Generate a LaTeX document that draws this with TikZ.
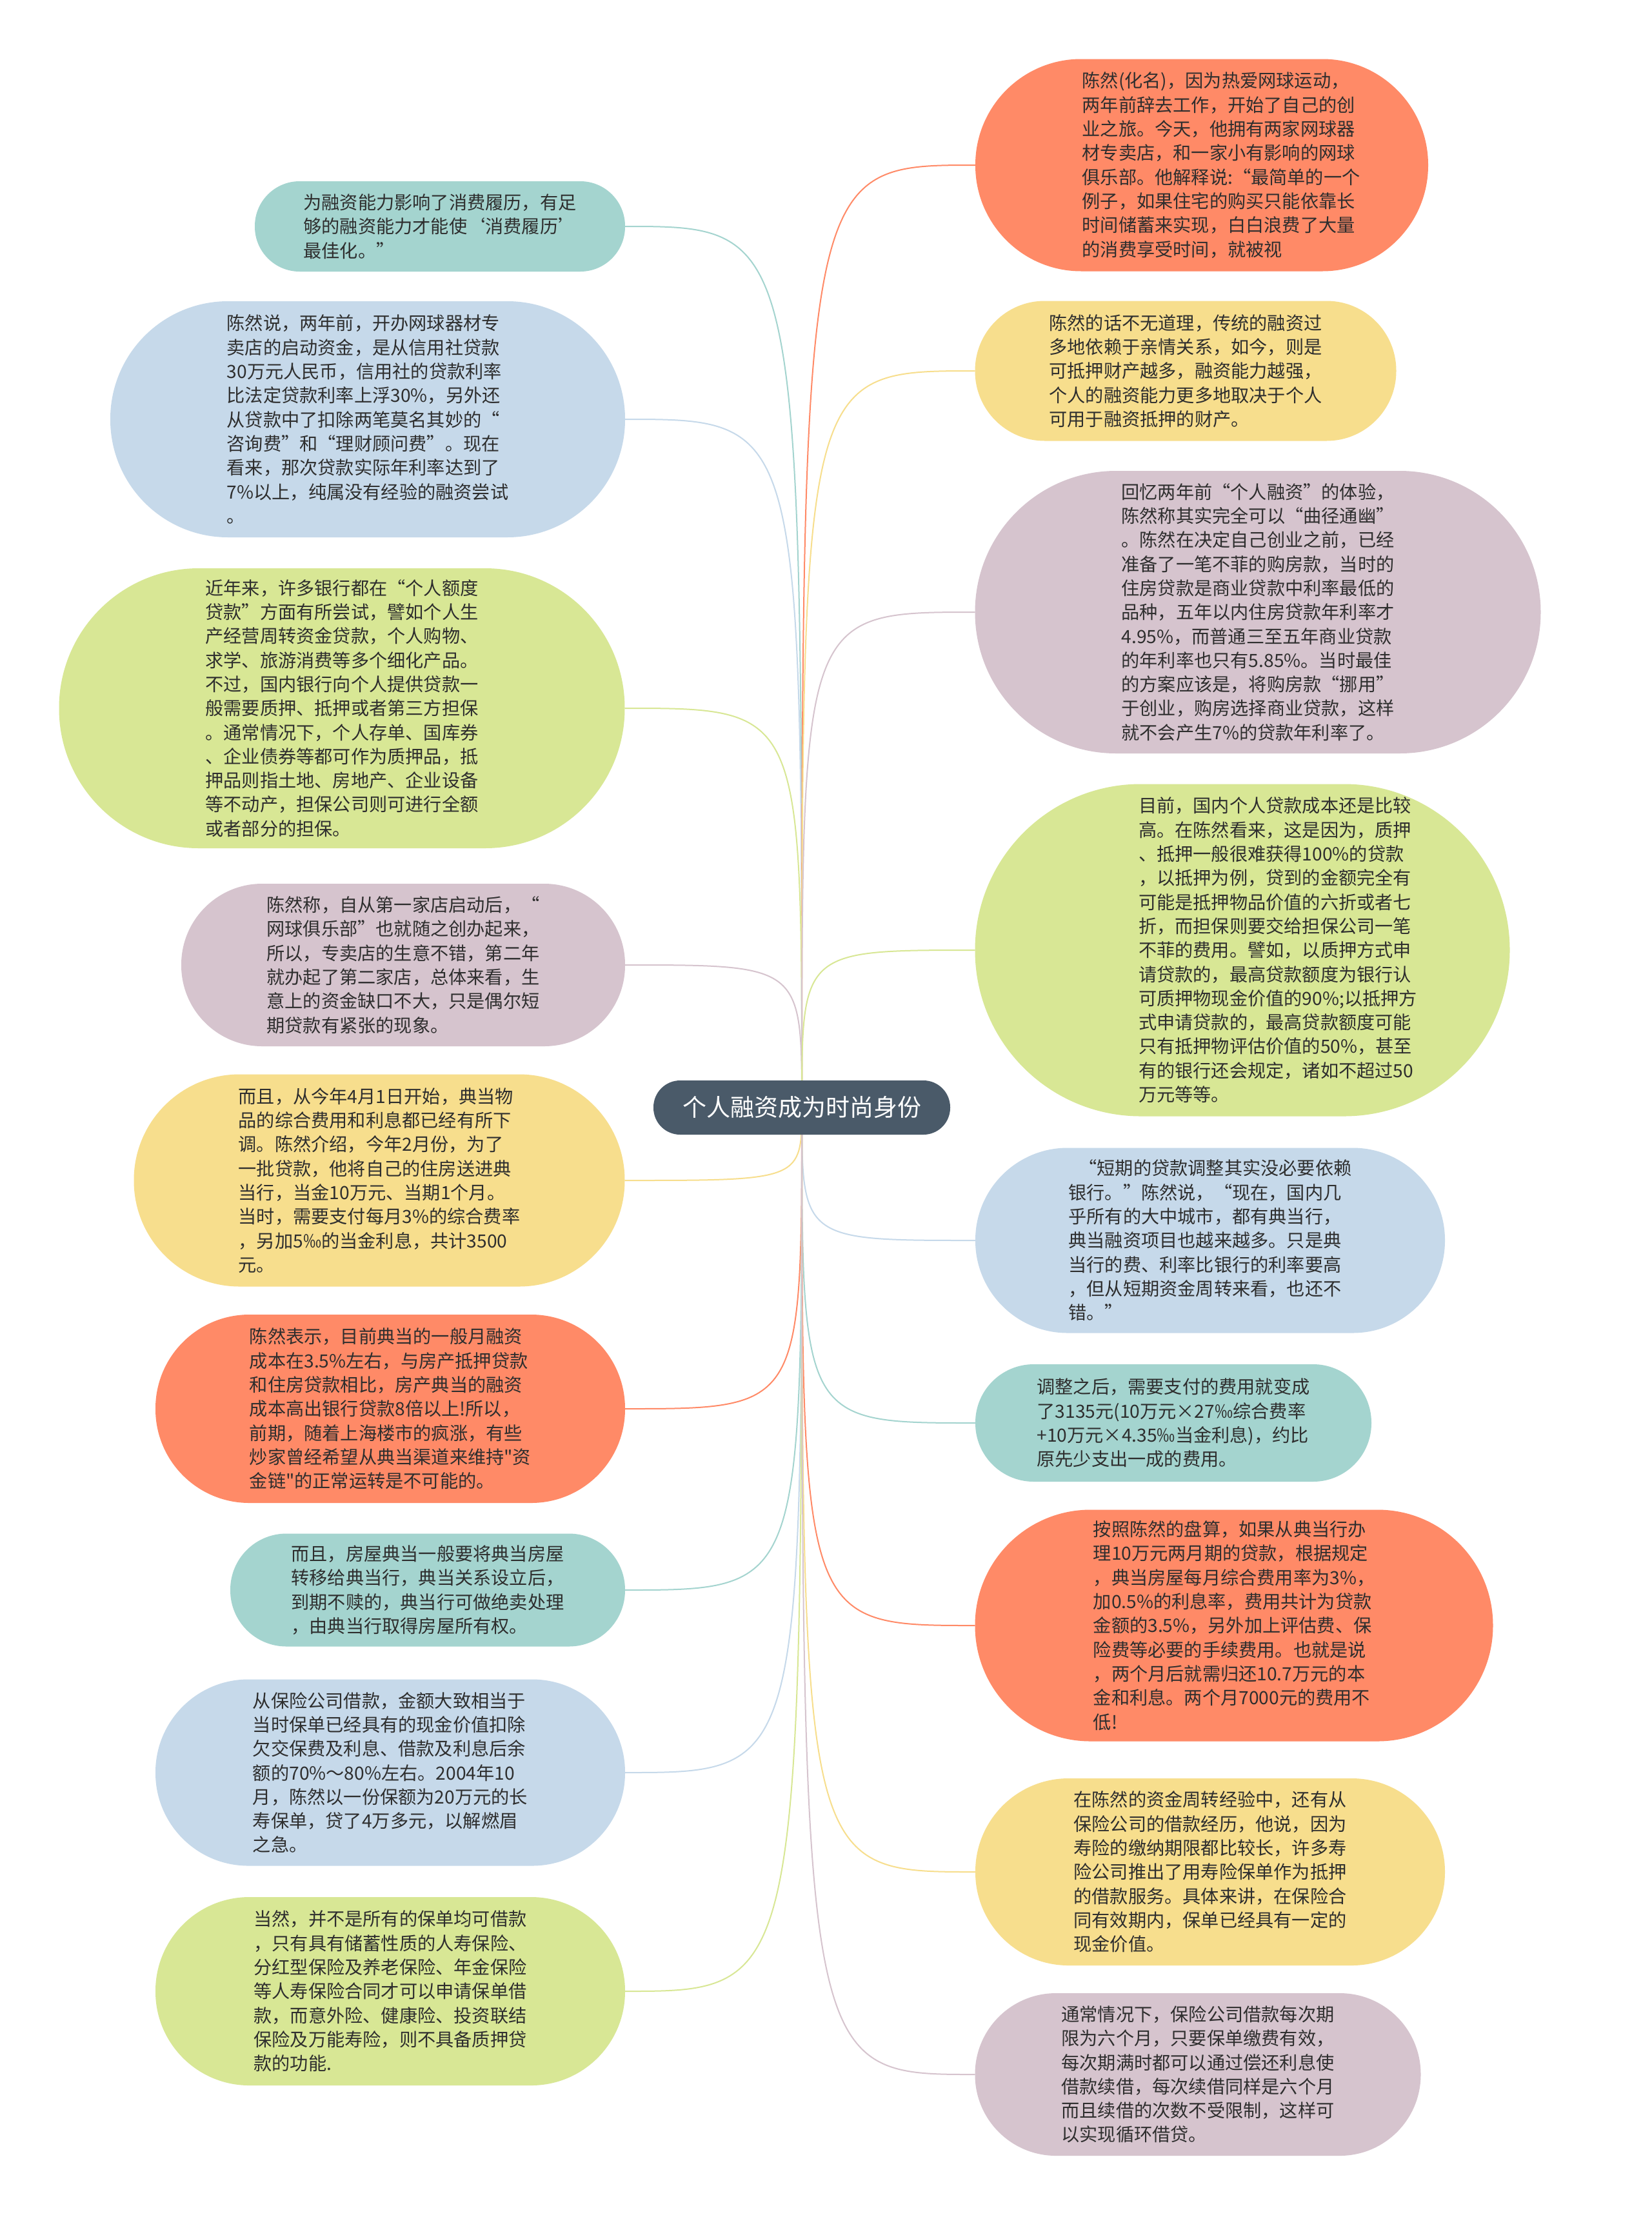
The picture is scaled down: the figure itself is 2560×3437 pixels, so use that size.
\documentclass[tikz,border=0pt]{standalone}
\usepackage{fontspec}
\setmainfont{Noto Sans CJK SC}
\newfontfamily\zhfont{Noto Sans CJK SC}
\usetikzlibrary{backgrounds}
\definecolor{cOr}{HTML}{FF8A67}
\definecolor{cYe}{HTML}{F7DE8D}
\definecolor{cMa}{HTML}{D6C4CE}
\definecolor{cLi}{HTML}{D8E795}
\definecolor{cBl}{HTML}{C6D9EA}
\definecolor{cTe}{HTML}{A4D4CF}
\definecolor{cRoot}{HTML}{4A5A69}
\definecolor{cTxt}{HTML}{2E2E2E}
\newcommand\mmbox[8]{%
  \pgfmathsetmacro\mmr{#6/2-0.5}%
  \node[boxshape, fill=#2, minimum width=#5pt, minimum height=#6pt, rounded corners=\mmr pt] (#1) at (#3,#4) {};%
  \node[boxtext] (#1t) at ([xshift=#7pt]#1.center) {#8};%
}
\begin{document}
\begin{tikzpicture}[x=1pt,y=-1pt,
  boxshape/.style={draw=none, inner sep=0pt, outer sep=0pt, rectangle},
  boxtext/.style={inner sep=0pt, align=left, text=cTxt, font=\zhfont\fontsize{28.2pt}{37.3pt}\selectfont},
  conn/.style={line width=2pt, draw=#1}]
\useasboundingbox (0,0) rectangle (2560,3437);

\node[fill=cRoot, rounded corners=41.5pt, minimum width=460pt, minimum height=84pt, inner sep=0pt, text=white, font=\zhfont\fontsize{37pt}{44pt}\selectfont] (root) at (1243,1717) {个人融资成为时尚身份};

% left column
\mmbox{L1}{cTe}{682}{351}{574}{140}{0}{为融资能力影响了消费履历，有足\\够的融资能力才能使‘消费履历’\\最佳化。”}
\mmbox{L2}{cBl}{570}{650}{798}{366}{0}{陈然说，两年前，开办网球器材专\\卖店的启动资金，是从信用社贷款\\30万元人民币，信用社的贷款利率\\比法定贷款利率上浮30\%，另外还\\从贷款中了扣除两笔莫名其妙的“\\咨询费”和“理财顾问费”。现在\\看来，那次贷款实际年利率达到了\\7\%以上，纯属没有经验的融资尝试\\。}
\mmbox{L3}{cLi}{530}{1098}{877}{434}{0}{近年来，许多银行都在“个人额度\\贷款”方面有所尝试，譬如个人生\\产经营周转资金贷款，个人购物、\\求学、旅游消费等多个细化产品。\\不过，国内银行向个人提供贷款一\\般需要质押、抵押或者第三方担保\\。通常情况下，个人存单、国库券\\、企业债券等都可作为质押品，抵\\押品则指土地、房地产、企业设备\\等不动产，担保公司则可进行全额\\或者部分的担保。}
\mmbox{L4}{cMa}{625}{1496}{688}{252}{0}{陈然称，自从第一家店启动后，“\\网球俱乐部”也就随之创办起来，\\所以，专卖店的生意不错，第二年\\就办起了第二家店，总体来看，生\\意上的资金缺口不大，只是偶尔短\\期贷款有紧张的现象。}
\mmbox{L5}{cYe}{588}{1830}{761}{329}{0}{而且，从今年4月1日开始，典当物\\品的综合费用和利息都已经有所下\\调。陈然介绍，今年2月份，为了\\一批贷款，他将自己的住房送进典\\当行，当金10万元、当期1个月。\\当时，需要支付每月3\%的综合费率\\，另加5‰的当金利息，共计3500\\元。}
\mmbox{L6}{cOr}{605}{2184}{728}{292}{0}{陈然表示，目前典当的一般月融资\\成本在3.5\%左右，与房产抵押贷款\\和住房贷款相比，房产典当的融资\\成本高出银行贷款8倍以上!所以，\\前期，随着上海楼市的疯涨，有些\\炒家曾经希望从典当渠道来维持"资\\金链"的正常运转是不可能的。}
\mmbox{L7}{cTe}{663}{2465}{612}{175}{0}{而且，房屋典当一般要将典当房屋\\转移给典当行，典当关系设立后，\\到期不赎的，典当行可做绝卖处理\\，由典当行取得房屋所有权。}
\mmbox{L8}{cBl}{605}{2748}{728}{289}{0}{从保险公司借款，金额大致相当于\\当时保单已经具有的现金价值扣除\\欠交保费及利息、借款及利息后余\\额的70\%～80\%左右。2004年10\\月，陈然以一份保额为20万元的长\\寿保单，贷了4万多元，以解燃眉\\之急。}
\mmbox{L9}{cLi}{605}{3087}{728}{292}{0}{当然，并不是所有的保单均可借款\\，只有具有储蓄性质的人寿保险、\\分红型保险及养老保险、年金保险\\等人寿保险合同才可以申请保单借\\款，而意外险、健康险、投资联结\\保险及万能寿险，则不具备质押贷\\款的功能.}

% right column
\mmbox{R1}{cOr}{1863}{256}{702}{329}{30}{陈然(化名)，因为热爱网球运动，\\两年前辞去工作，开始了自己的创\\业之旅。今天，他拥有两家网球器\\材专卖店，和一家小有影响的网球\\俱乐部。他解释说:“最简单的一个\\例子，如果住宅的购买只能依靠长\\时间储蓄来实现，白白浪费了大量\\的消费享受时间，就被视}
\mmbox{R2}{cYe}{1838}{575}{653}{217}{0}{陈然的话不无道理，传统的融资过\\多地依赖于亲情关系，如今，则是\\可抵押财产越多，融资能力越强，\\个人的融资能力更多地取决于个人\\可用于融资抵押的财产。}
\mmbox{R3}{cMa}{1950}{949}{877}{438}{0}{回忆两年前“个人融资”的体验，\\陈然称其实完全可以“曲径通幽”\\。陈然在决定自己创业之前，已经\\准备了一笔不菲的购房款，当时的\\住房贷款是商业贷款中利率最低的\\品种，五年以内住房贷款年利率才\\4.95\%，而普通三至五年商业贷款\\的年利率也只有5.85\%。当时最佳\\的方案应该是，将购房款“挪用”\\于创业，购房选择商业贷款，这样\\就不会产生7\%的贷款年利率了。}
\mmbox{R4}{cLi}{1926}{1473}{829}{515}{55}{目前，国内个人贷款成本还是比较\\高。在陈然看来，这是因为，质押\\、抵押一般很难获得100\%的贷款\\，以抵押为例，贷到的金额完全有\\可能是抵押物品价值的六折或者七\\折，而担保则要交给担保公司一笔\\不菲的费用。譬如，以质押方式申\\请贷款的，最高贷款额度为银行认\\可质押物现金价值的90\%;以抵押方\\式申请贷款的，最高贷款额度可能\\只有抵押物评估价值的50\%，甚至\\有的银行还会规定，诸如不超过50\\万元等等。}
\mmbox{R5}{cBl}{1876}{1923}{728}{287}{0}{\hspace*{16pt}“短期的贷款调整其实没必要依赖\\银行。”陈然说，“现在，国内几\\乎所有的大中城市，都有典当行，\\典当融资项目也越来越多。只是典\\当行的费、利率比银行的利率要高\\，但从短期资金周转来看，也还不\\错。”}
\mmbox{R6}{cTe}{1819}{2206}{614}{182}{0}{调整之后，需要支付的费用就变成\\了3135元(10万元×27‰综合费率\\+10万元×4.35‰当金利息)，约比\\原先少支出一成的费用。}
\mmbox{R7}{cOr}{1913}{2520}{803}{359}{0}{按照陈然的盘算，如果从典当行办\\理10万元两月期的贷款，根据规定\\，典当房屋每月综合费用率为3\%，\\加0.5\%的利息率，费用共计为贷款\\金额的3.5\%，另外加上评估费、保\\险费等必要的手续费用。也就是说\\，两个月后就需归还10.7万元的本\\金和利息。两个月7000元的费用不\\低!}
\mmbox{R8}{cYe}{1876}{2902}{728}{290}{0}{在陈然的资金周转经验中，还有从\\保险公司的借款经历，他说，因为\\寿险的缴纳期限都比较长，许多寿\\险公司推出了用寿险保单作为抵押\\的借款服务。具体来讲，在保险合\\同有效期内，保单已经具有一定的\\现金价值。}
\mmbox{R9}{cMa}{1857}{3216}{691}{252}{0}{通常情况下，保险公司借款每次期\\限为六个月，只要保单缴费有效，\\每次期满时都可以通过偿还利息使\\借款续借，每次续借同样是六个月\\而且续借的次数不受限制，这样可\\以实现循环借贷。}

\begin{scope}[on background layer]
\fill[white] (0,0) rectangle (2560,3437);
\foreach \n/\c in {L1/cTe,L2/cBl,L3/cLi,L4/cMa,L5/cYe,L6/cOr,L7/cTe,L8/cBl,L9/cLi}
  \draw[conn=\c] (root.center) .. controls (root.center |- \n.east) .. (\n.east);
\foreach \n/\c in {R1/cOr,R2/cYe,R3/cMa,R4/cLi,R5/cBl,R6/cTe,R7/cOr,R8/cYe,R9/cMa}
  \draw[conn=\c] (root.center) .. controls (root.center |- \n.west) .. (\n.west);
\end{scope}
\end{tikzpicture}
\end{document}
